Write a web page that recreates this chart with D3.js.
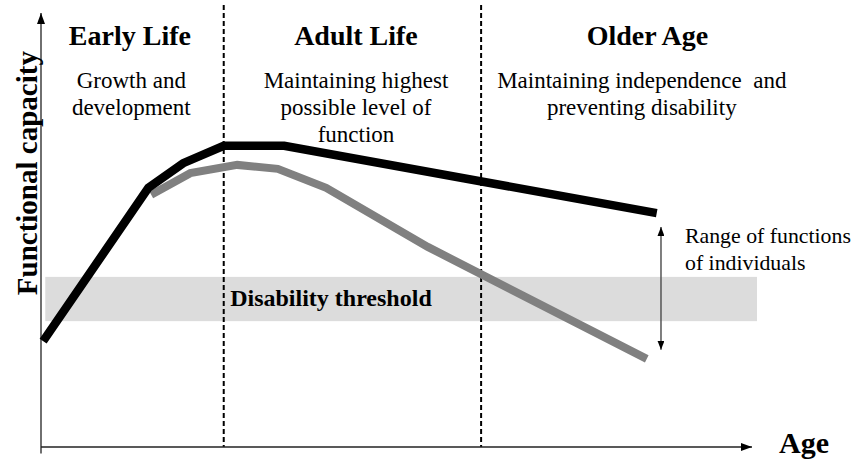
<!DOCTYPE html>
<html>
<head>
<meta charset="utf-8">
<script src="https://cdn.jsdelivr.net/npm/d3@7"></script>
<style>
  body { margin: 0; background: #fff; }
</style>
</head>
<body>
<div id="chart"></div>
<script>
// Values (age and functional capacity on a 0-100 scale)
const highAge = [0.3, 15.1, 20.0, 25.7, 34.2, 86.6];
const highCapacity = [24.4, 59.7, 65.4, 69.4, 69.4, 53.9];

const lowAge = [15.5, 21.0, 27.6, 33.3, 40.1, 54.4, 85.2];
const lowCapacity = [58.1, 63.1, 65.0, 64.1, 59.7, 46.1, 20.3];

const stageBreaks = [25.7, 61.9];
const stageNames = ["Early Life", "Adult Life", "Older Age"];
const stageCentres = [12.5, 44.3, 85.3];
const stageNotes = [
  ["Growth and", "development"],
  ["Maintaining highest", "possible level of", "function"],
  ["Maintaining independence\u00a0 and", "preventing disability"]
];
const stageNoteCentres = [12.7, 44.3, 84.5];

const thresholdAge = [0.6, 100.7];
const thresholdCapacity = [29.0, 39.2];
const rangeAge = 87.2;
const rangeCapacity = [22.4, 50.7];

const width = 854;
const height = 465;
const margin = { top: 13, right: 102, bottom: 18, left: 41 };
const serif = "'Liberation Serif', Tinos, 'Times New Roman', Times, 'DejaVu Serif', serif";

const svg = d3.select("#chart")
  .append("svg")
  .attr("width", width)
  .attr("height", height)
  .style("font-family", serif);

const x = d3.scaleLinear()
  .domain([0, 100])
  .range([margin.left, width - margin.right]);

const y = d3.scaleLinear()
  .domain([0, 100])
  .range([height - margin.bottom, margin.top]);

const defs = svg.append("defs");
function arrowMarker(id, w, h) {
  defs.append("marker")
    .attr("id", id)
    .attr("viewBox", `0 0 ${h} ${w}`)
    .attr("refX", h)
    .attr("refY", w / 2)
    .attr("markerUnits", "userSpaceOnUse")
    .attr("markerWidth", h)
    .attr("markerHeight", w)
    .attr("orient", "auto-start-reverse")
    .append("path")
    .attr("d", `M0,0L${h},${w / 2}L0,${w}Z`)
    .attr("fill", "#000");
}
arrowMarker("axisArrow", 8, 11);
arrowMarker("rangeArrow", 7, 9);

// Disability threshold band
svg.append("rect")
  .attr("x", x(thresholdAge[0]))
  .attr("y", y(thresholdCapacity[1]))
  .attr("width", x(thresholdAge[1]) - x(thresholdAge[0]))
  .attr("height", y(thresholdCapacity[0]) - y(thresholdCapacity[1]))
  .attr("fill", "#dcdcdc");

svg.append("text")
  .attr("x", x(26.6))
  .attr("y", y(32.4))
  .attr("font-size", 24)
  .attr("font-weight", "bold")
  .text("Disability threshold");

// Stage dividers
svg.selectAll("line.divider")
  .data(stageBreaks)
  .join("line")
  .attr("class", "divider")
  .attr("x1", d => x(d))
  .attr("x2", d => x(d))
  .attr("y1", 5)
  .attr("y2", y(0))
  .attr("stroke", "#000")
  .attr("stroke-width", 2)
  .attr("stroke-dasharray", "5,3");

// Axes with arrow heads
svg.append("line")
  .attr("x1", x(0)).attr("y1", y(-1.5))
  .attr("x2", x(0)).attr("y2", y(100))
  .attr("stroke", "#222")
  .attr("stroke-width", 1.3)
  .attr("marker-end", "url(#axisArrow)");

svg.append("line")
  .attr("x1", x(0)).attr("y1", y(0))
  .attr("x2", x(100)).attr("y2", y(0))
  .attr("stroke", "#222")
  .attr("stroke-width", 1.3)
  .attr("marker-end", "url(#axisArrow)");

svg.append("text")
  .attr("x", 779)
  .attr("y", 453)
  .attr("font-size", 30)
  .attr("font-weight", "bold")
  .text("Age");

svg.append("text")
  .attr("transform", `translate(37,${y(63.1)}) rotate(-90)`)
  .attr("text-anchor", "middle")
  .attr("font-size", 29)
  .attr("font-weight", "bold")
  .text("Functional capacity");

// Capacity curves
const line = d3.line()
  .x(d => x(d[0]))
  .y(d => y(d[1]));

svg.append("path")
  .datum(d3.zip(lowAge, lowCapacity))
  .attr("fill", "none")
  .attr("stroke", "#808080")
  .attr("stroke-width", 8)
  .attr("stroke-linejoin", "miter")
  .attr("d", line);

svg.append("path")
  .datum(d3.zip(highAge, highCapacity))
  .attr("fill", "none")
  .attr("stroke", "#000")
  .attr("stroke-width", 8.5)
  .attr("stroke-linejoin", "miter")
  .attr("d", line);

// Range of functions arrow
svg.append("line")
  .attr("x1", x(rangeAge)).attr("y1", y(rangeCapacity[0]))
  .attr("x2", x(rangeAge)).attr("y2", y(rangeCapacity[1]))
  .attr("stroke", "#555")
  .attr("stroke-width", 1.5)
  .attr("marker-start", "url(#rangeArrow)")
  .attr("marker-end", "url(#rangeArrow)");

svg.append("text")
  .attr("font-size", 21.8)
  .selectAll("tspan")
  .data(["Range of functions", "of individuals"])
  .join("tspan")
  .attr("x", 685)
  .attr("y", (d, i) => 243 + i * 27)
  .text(d => d);

// Stage headings and notes
svg.selectAll("text.stage")
  .data(stageNames)
  .join("text")
  .attr("class", "stage")
  .attr("x", (d, i) => x(stageCentres[i]))
  .attr("y", 45)
  .attr("text-anchor", "middle")
  .attr("font-size", 28)
  .attr("font-weight", "bold")
  .text(d => d);

stageNotes.forEach((lines, i) => {
  svg.append("text")
    .attr("text-anchor", "middle")
    .attr("font-size", 23)
    .selectAll("tspan")
    .data(lines)
    .join("tspan")
    .attr("x", x(stageNoteCentres[i]))
    .attr("y", (d, j) => 88 + j * 27)
    .text(d => d);
});
</script>
</body>
</html>
